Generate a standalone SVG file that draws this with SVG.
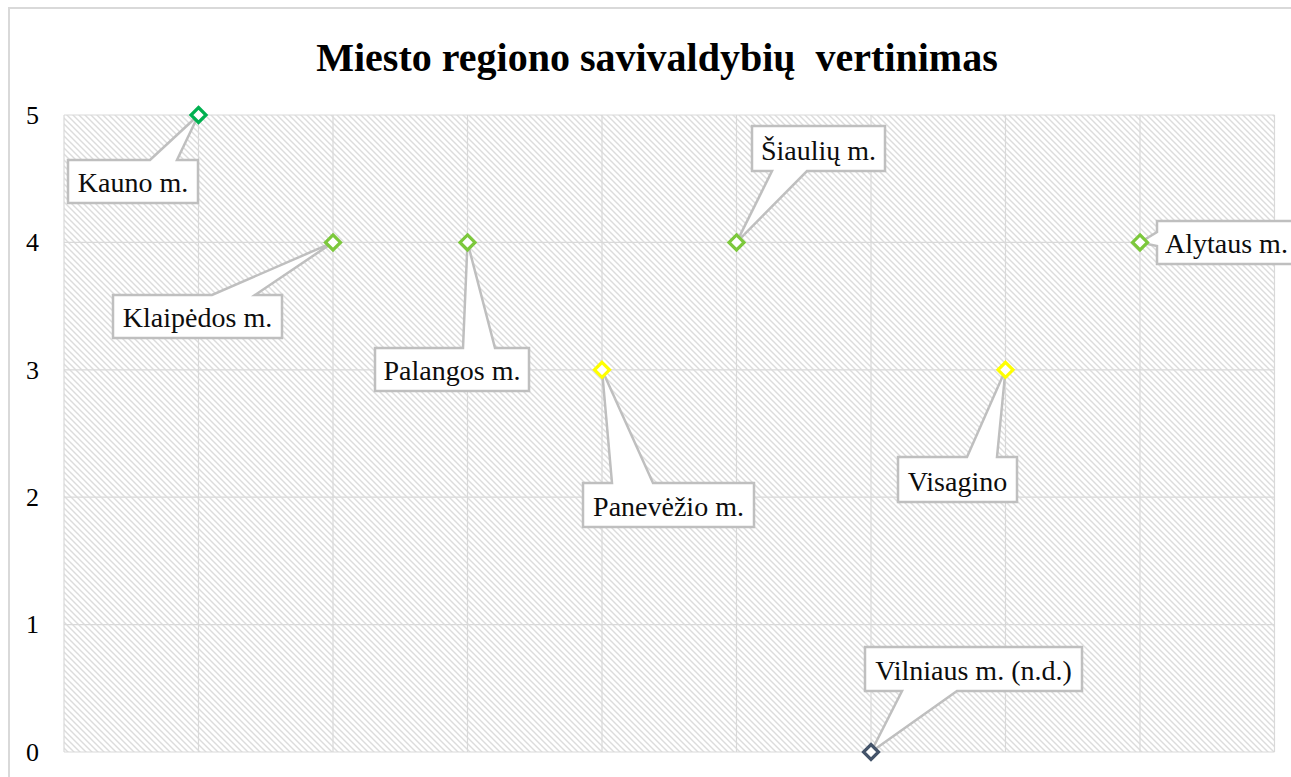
<svg xmlns="http://www.w3.org/2000/svg" width="1291" height="777" viewBox="0 0 1291 777">
<defs>
<pattern id="hatch" patternUnits="userSpaceOnUse" width="6" height="6">
<rect width="6" height="6" fill="#ffffff"/>
<path d="M-1,-1 L7,7 M-1,5 L1,7 M5,-1 L7,1" stroke="#dcdcdc" stroke-width="1.4"/>
</pattern>
</defs>
<style>
.title{font-family:"Liberation Serif","Times New Roman",serif;font-size:40px;font-weight:bold;fill:#000;white-space:pre}
.ax{font-family:"Liberation Serif","Times New Roman",serif;font-size:26px;fill:#000}
.lbl{font-family:"Liberation Serif","Times New Roman",serif;font-size:28px;fill:#0d0d0d}
.grid{stroke:#d9d9d9;stroke-width:1.2;fill:none}
.co{fill:#ffffff;stroke:#bfbfbf;stroke-width:2.5;stroke-linejoin:miter}
.mk{fill:#ffffff;stroke-width:3.2}
</style>
<rect x="9" y="8" width="1300" height="800" fill="#ffffff" stroke="#d9d9d9" stroke-width="2"/>
<text class="title" x="657" y="71" text-anchor="middle">Miesto regiono savivaldybių  vertinimas</text>
<g id="plot">
<rect x="64" y="115" width="1210.5" height="637" fill="url(#hatch)"/>
<path class="grid" d="M64,115H1274.5M64,242.4H1274.5M64,369.8H1274.5M64,497.2H1274.5M64,624.6H1274.5M64,752H1274.5M64,115V752M198.5,115V752M333,115V752M467.5,115V752M602,115V752M736.5,115V752M871,115V752M1005.5,115V752M1140,115V752M1274.5,115V752"/>
</g>
<g id="yaxis">
<text class="ax" x="26" y="124">5</text>
<text class="ax" x="26" y="251">4</text>
<text class="ax" x="26" y="379">3</text>
<text class="ax" x="26" y="506">2</text>
<text class="ax" x="26" y="633">1</text>
<text class="ax" x="26" y="761">0</text>
</g>
<g id="connectors"></g>
<g id="kauno">
<path class="co" d="M68,160H150L198.5,115L177,160H198V203H68Z"/>
<text class="lbl" x="133" y="192" text-anchor="middle">Kauno m.</text>
<path class="mk" stroke="#00b050" d="M198.5,107.5L206,115L198.5,122.5L191,115Z"/>
</g>
<g id="klaipedos">
<path class="co" d="M113,295H212L333,242.4L255,295H282V338H113Z"/>
<text class="lbl" x="197.5" y="327" text-anchor="middle">Klaipėdos m.</text>
<path class="mk" stroke="#7cc83c" d="M333,234.9L340.5,242.4L333,249.9L325.5,242.4Z"/>
</g>
<g id="palangos">
<path class="co" d="M375,348H463L467.5,242.4L495,348H529V391H375Z"/>
<text class="lbl" x="452" y="380" text-anchor="middle">Palangos m.</text>
<path class="mk" stroke="#7cc83c" d="M467.5,234.9L475,242.4L467.5,249.9L460,242.4Z"/>
</g>
<g id="panevezio">
<path class="co" d="M583,483H612L602,369.8L653,483H754V527H583Z"/>
<text class="lbl" x="668.5" y="516" text-anchor="middle">Panevėžio m.</text>
<path class="mk" stroke="#ffff00" d="M602,362.3L609.5,369.8L602,377.3L594.5,369.8Z"/>
</g>
<g id="siauliu">
<path class="co" d="M752,126H885V171H807L736.5,242.4L772,171H752Z"/>
<text class="lbl" x="818.5" y="160" text-anchor="middle">Šiaulių m.</text>
<path class="mk" stroke="#7cc83c" d="M736.5,234.9L744,242.4L736.5,249.9L729,242.4Z"/>
</g>
<g id="vilniaus">
<path class="co" d="M865,647H1082V691H957L871,752L902,691H865Z"/>
<text class="lbl" x="973.5" y="680" text-anchor="middle">Vilniaus m. (n.d.)</text>
<path class="mk" stroke="#44546a" d="M871,744.5L878.5,752L871,759.5L863.5,752Z"/>
</g>
<g id="visagino">
<path class="co" d="M898,457H967L1005.5,369.8L997,457H1017V502H898Z"/>
<text class="lbl" x="957.5" y="491" text-anchor="middle">Visagino</text>
<path class="mk" stroke="#ffff00" d="M1005.5,362.3L1013,369.8L1005.5,377.3L998,369.8Z"/>
</g>
<g id="alytaus">
<path class="co" d="M1157,221H1297V264H1157V246L1140,242.4L1157,232Z"/>
<text class="lbl" x="1165" y="253">Alytaus m.</text>
<path class="mk" stroke="#7cc83c" d="M1140,234.9L1147.5,242.4L1140,249.9L1132.5,242.4Z"/>
</g>
</svg>
